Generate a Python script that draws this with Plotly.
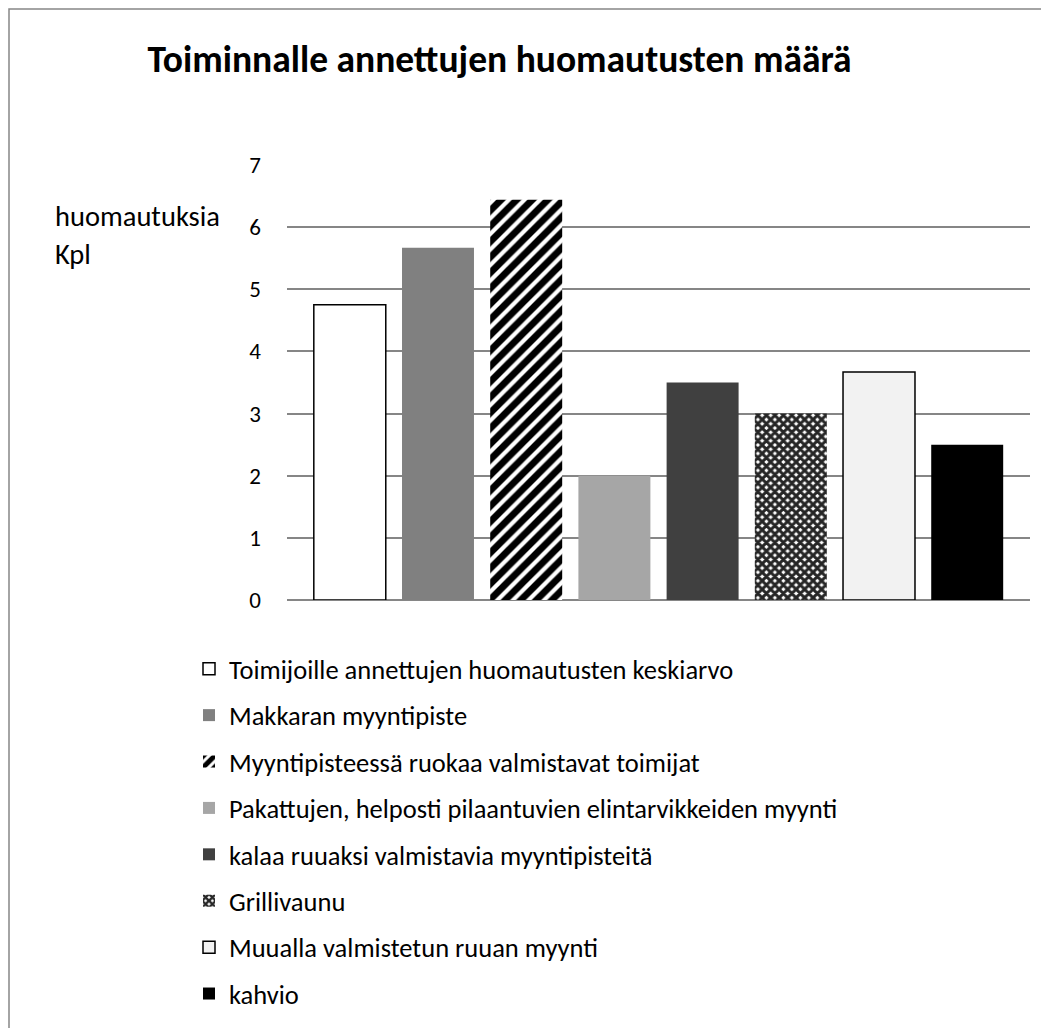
import plotly.graph_objects as go

series_names = [
    "Toimijoille annettujen huomautusten keskiarvo",
    "Makkaran myyntipiste",
    "Myyntipisteessä ruokaa valmistavat toimijat",
    "Pakattujen, helposti pilaantuvien elintarvikkeiden myynti",
    "kalaa ruuaksi valmistavia myyntipisteitä",
    "Grillivaunu",
    "Muualla valmistetun ruuan myynti",
    "kahvio",
]
values = [4.75, 5.67, 6.44, 2.0, 3.5, 3.0, 3.67, 2.5]
y_ticks = [0, 1, 2, 3, 4, 5, 6, 7]

fills = ["#ffffff", "#808080", "#ffffff", "#a6a6a6", "#404040", "#ffffff", "#f2f2f2", "#000000"]
outlines = [1.5, 0, 0, 0, 0, 0, 1.5, 0]
patterns = [None, None,
            dict(shape="/", fgcolor="#000000", bgcolor="#ffffff", size=11, solidity=0.62, fgopacity=1),
            None, None,
            dict(shape="x", fgcolor="#262626", bgcolor="#ffffff", size=6, solidity=0.75, fgopacity=1),
            None, None]

FONT = "Carlito, Lato, sans-serif"

fig = go.Figure()
for i, (n, v) in enumerate(zip(series_names, values)):
    marker = dict(color=fills[i], line=dict(color="#000000", width=outlines[i]))
    if patterns[i]:
        marker["pattern"] = patterns[i]
    fig.add_trace(go.Bar(x=[n], y=[v], name=n, marker=marker, legendgroup=n, hoverinfo="y"))

# figure coordinates (page has an 8px body margin)
W, H = 1049, 1028
L, R, T, B = 279, 27, 157, 436
pw, ph = W - L - R, H - T - B

def px(x):
    return (x - L) / pw

def py(y):
    return (H - B - y) / ph

fig.update_layout(
    width=W, height=H,
    margin=dict(l=L, r=R, t=T, b=B),
    paper_bgcolor="white", plot_bgcolor="white",
    barmode="overlay", bargap=0.184,
    font=dict(family=FONT, color="#000000", size=23),
    title=dict(text="<b>Toiminnalle annettujen huomautusten määrä</b>",
               x=491.5 / W, xanchor="center", y=1 - 51 / H, yanchor="middle",
               font=dict(family=FONT, size=37.5, color="#000000")),
    xaxis=dict(categoryorder="array", categoryarray=series_names, range=[-0.712, 7.712],
               showticklabels=False, showgrid=False, zeroline=False, showline=False, ticks=""),
    yaxis=dict(range=[0, 7], tickvals=y_ticks, showgrid=True, gridcolor="#868686", gridwidth=1.5,
               zeroline=True, zerolinecolor="#868686", zerolinewidth=1.5, showline=False,
               ticks="", ticklabelstandoff=25, tickfont=dict(size=23, family=FONT)),
    legend=dict(x=px(181), y=py(637), xanchor="left", yanchor="top", orientation="v",
                traceorder="grouped", tracegroupgap=8.95, itemwidth=30,
                font=dict(size=26.5, family=FONT), bgcolor="rgba(0,0,0,0)"),
    showlegend=True,
    annotations=[
        dict(text="huomautuksia", x=px(45), y=py(208), xref="paper", yref="paper",
             xanchor="left", yanchor="middle", align="left", showarrow=False,
             font=dict(size=28.5, family=FONT)),
        dict(text="Kpl", x=px(45), y=py(246), xref="paper", yref="paper",
             xanchor="left", yanchor="middle", align="left", showarrow=False,
             font=dict(size=28.5, family=FONT)),
    ],
    shapes=[dict(type="rect", xref="paper", yref="paper", x0=px(1), y0=py(1080), x1=px(1080), y1=py(1),
                 line=dict(color="#868686", width=1.5), fillcolor="rgba(0,0,0,0)", layer="below")],
)

fig.write_html("out.html")
